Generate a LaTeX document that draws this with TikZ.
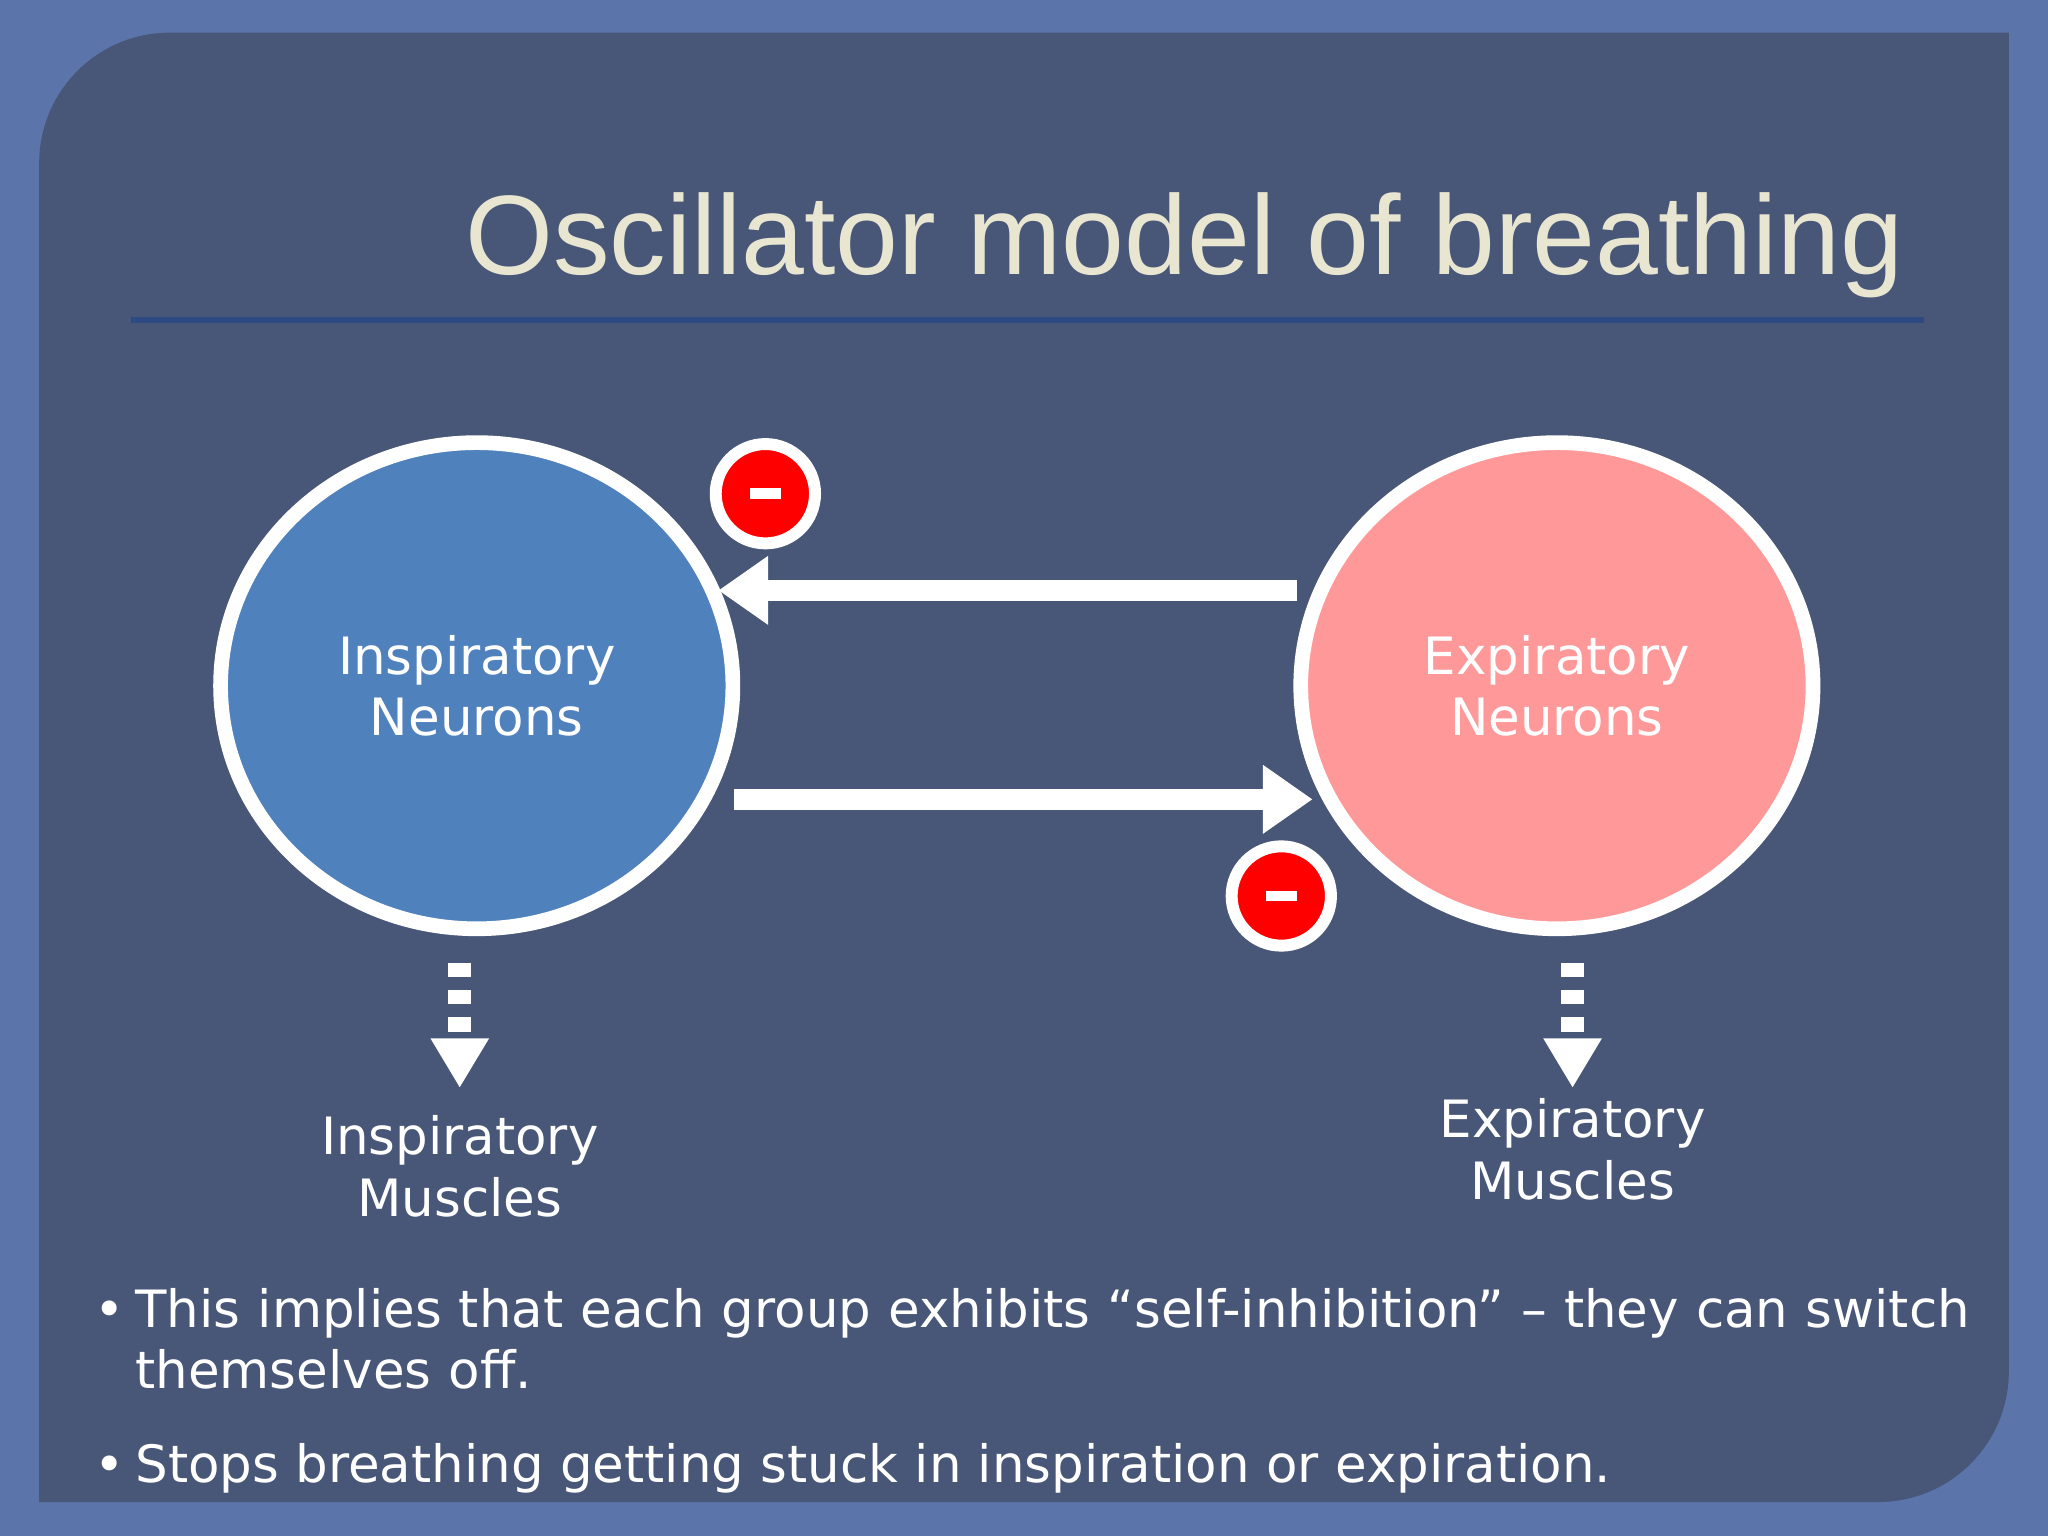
\documentclass[tikz,border=0pt]{standalone}
\usepackage{fontspec}
\setmainfont{DejaVu Sans}
\newfontfamily\titlefont{Liberation Sans}
\usetikzlibrary{arrows.meta,calc,shapes.geometric}
\definecolor{outerbg}{HTML}{5B74A9}
\definecolor{panel}{HTML}{485677}
\definecolor{inspblue}{HTML}{4F81BD}
\definecolor{exppink}{HTML}{FF9999}
\definecolor{titlecol}{HTML}{E8E6D0}
\definecolor{rulecol}{HTML}{2D4A85}
\tikzset{
  neuron/.style={draw=white,line width=3.2pt,ellipse,minimum width=3.92cm,minimum height=3.72cm,text=white,align=center,font=\fontsize{11.2}{13.4}\selectfont},
  minus/.style={circle,draw=white,line width=2.6pt,fill=red,minimum size=0.76cm,inner sep=0pt},
  bigarrow/.style={white,line width=4.5pt,-{Triangle[length=0.38cm,width=0.5cm]}},
  dasharrow/.style={white,line width=5pt,dash pattern=on 0.11cm off 0.1cm,-{Triangle[length=0.38cm,width=0.42cm]}},
  lbl/.style={text=white,align=center,font=\fontsize{11.2}{13.4}\selectfont},
  bul/.style={text=white,inner sep=0pt,font=\fontsize{11.2}{13.4}\selectfont},
}
\begin{document}
\begin{tikzpicture}[x=0.01cm,y=-0.01cm]
\useasboundingbox (0,0) rectangle (1568,1176);
\fill[outerbg] (0,0) rectangle (1568,1176);
\fill[panel] (30,125) -- (30,1150) -- (1438,1150) arc[start angle=-90,end angle=0,x radius=100,y radius=-100] -- (1538,25) -- (130,25) arc[start angle=90,end angle=180,x radius=100,y radius=-100] -- cycle;
\node[anchor=base east,text=titlecol,font=\titlefont\fontsize{24.6}{30}\selectfont] (title) at (1470,210) {Oscillator model of breathing};
\draw[rulecol,line width=1.5pt] (100,245) -- (1473,245);
\node[neuron,fill=inspblue] (insp) at (365,525) {Inspiratory\\Neurons};
\node[neuron,fill=exppink] (exp) at (1192,525) {Expiratory\\Neurons};
\coordinate (a1s) at (993,452); \coordinate (a1e) at (550,452);
\coordinate (a2s) at (562,612); \coordinate (a2e) at (1005,612);
\draw[bigarrow] (a1s) -- (a1e);
\draw[bigarrow] (a2s) -- (a2e);
\node[minus] (m1) at (586,378) {};
\fill[white] ($(m1)+(-12,-4)$) rectangle ($(m1)+(12,4)$);
\node[minus] (m2) at (981,686) {};
\fill[white] ($(m2)+(-12,-4)$) rectangle ($(m2)+(12,4)$);
\node[lbl] (im) at (352,893) {Inspiratory\\Muscles};
\node[lbl] (em) at (1204,880) {Expiratory\\Muscles};
\coordinate (d1s) at (352,737); \coordinate (d1e) at (352,833);
\coordinate (d2s) at (1204,737); \coordinate (d2e) at (1204,833);
\draw[dasharrow] (d1s) -- (d1e);
\draw[dasharrow] (d2s) -- (d2e);
\node[bul,anchor=base west] (bu1) at (72,1016) {•};
\node[bul,anchor=base west,text width=14.2cm,align=left] (b1) at (103,1016)
{This implies that each group exhibits “self-inhibition” – they can switch themselves off.};
\node[bul,anchor=base west] (bu2) at (72,1135) {•};
\node[bul,anchor=base west] (b2) at (103,1135)
{Stops breathing getting stuck in inspiration or expiration.};
\end{tikzpicture}
\end{document}
